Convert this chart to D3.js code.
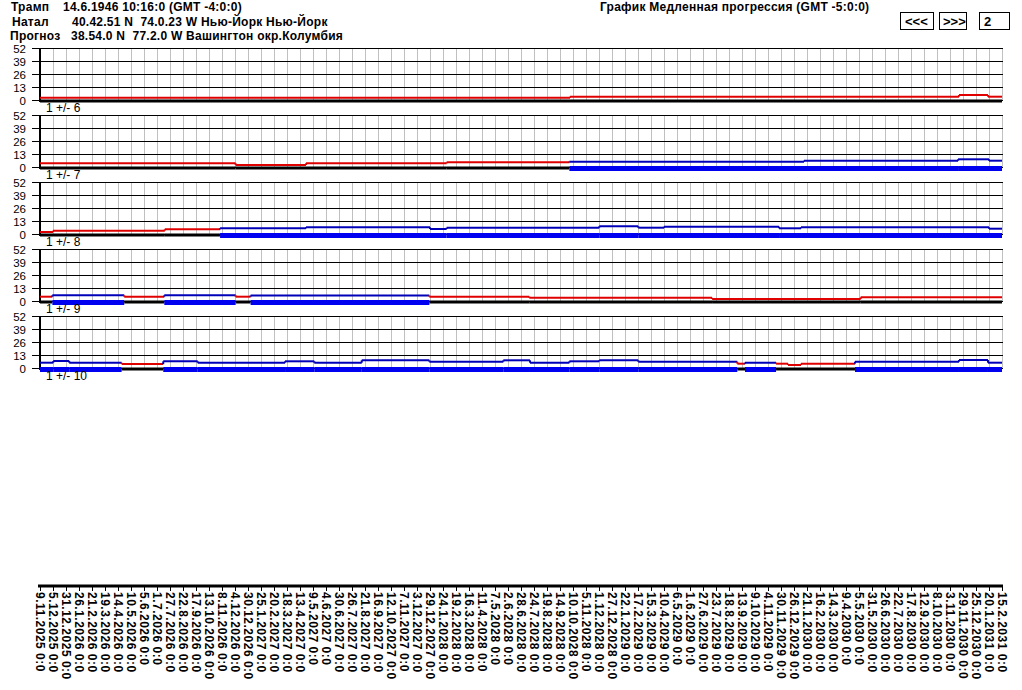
<!DOCTYPE html>
<html>
<head>
<meta charset="utf-8">
<script src="https://cdn.jsdelivr.net/npm/d3@7"></script>
<style>
  html, body { margin: 0; padding: 0; background: #ffffff; }
  svg { display: block; }
  text { font-family: "Liberation Sans", Arial, sans-serif; }
</style>
</head>
<body>
<svg id="chart" width="1022" height="690"></svg>
<script>
// ---------- data ----------
const dateLabels = [
  "9.11.2025 0:0","5.12.2025 0:0","31.12.2025 0:0","26.1.2026 0:0","21.2.2026 0:0",
  "19.3.2026 0:0","14.4.2026 0:0","10.5.2026 0:0","5.6.2026 0:0","1.7.2026 0:0",
  "27.7.2026 0:0","22.8.2026 0:0","17.9.2026 0:0","13.10.2026 0:0","8.11.2026 0:0",
  "4.12.2026 0:0","30.12.2026 0:0","25.1.2027 0:0","20.2.2027 0:0","18.3.2027 0:0",
  "13.4.2027 0:0","9.5.2027 0:0","4.6.2027 0:0","30.6.2027 0:0","26.7.2027 0:0",
  "21.8.2027 0:0","16.9.2027 0:0","12.10.2027 0:0","7.11.2027 0:0","3.12.2027 0:0",
  "29.12.2027 0:0","24.1.2028 0:0","19.2.2028 0:0","16.3.2028 0:0","11.4.2028 0:0",
  "7.5.2028 0:0","2.6.2028 0:0","28.6.2028 0:0","24.7.2028 0:0","19.8.2028 0:0",
  "14.9.2028 0:0","10.10.2028 0:0","5.11.2028 0:0","1.12.2028 0:0","27.12.2028 0:0",
  "22.1.2029 0:0","17.2.2029 0:0","15.3.2029 0:0","10.4.2029 0:0","6.5.2029 0:0",
  "1.6.2029 0:0","27.6.2029 0:0","23.7.2029 0:0","18.8.2029 0:0","13.9.2029 0:0",
  "9.10.2029 0:0","4.11.2029 0:0","30.11.2029 0:0","26.12.2029 0:0","21.1.2030 0:0",
  "16.2.2030 0:0","14.3.2030 0:0","9.4.2030 0:0","5.5.2030 0:0","31.5.2030 0:0",
  "26.6.2030 0:0","22.7.2030 0:0","17.8.2030 0:0","12.9.2030 0:0","8.10.2030 0:0",
  "3.11.2030 0:0","29.11.2030 0:0","25.12.2030 0:0","20.1.2031 0:0","15.2.2031 0:0"
];
const yTicks = [0, 13, 26, 39, 52];
const panelLabels = ["1 +/- 6", "1 +/- 7", "1 +/- 8", "1 +/- 9", "1 +/- 10"];

// step series: start position (in date-tick units), value, state (r = red / b = blue)
const p1Start = [0, 40.77, 70.69, 72.92];
const p1Value = [2.3, 3.3, 5.0, 3.3];
const p1State = ["r", "r", "r", "r"];

const p2Start = [0, 15.05, 20.46, 31.28, 40.72, 58.77, 70.62, 73.0];
const p2Value = [3.7, 2.0, 3.7, 4.7, 5.3, 6.3, 7.7, 6.3];
const p2State = ["r", "r", "r", "r", "b", "b", "b", "b"];

const p3Start = [0, 1.0, 9.6, 13.85, 20.46, 30.0, 31.28, 43.02, 46.02, 48.0, 56.85, 58.54, 73.0];
const p3Value = [2.0, 3.3, 4.7, 5.7, 6.7, 5.0, 6.3, 7.7, 6.3, 7.3, 5.7, 6.7, 5.3];
const p3State = ["r", "r", "r", "b", "b", "b", "b", "b", "b", "b", "b", "b", "b"];

const p4Start = [0, 0.95, 6.48, 9.56, 15.05, 16.2, 29.95, 37.64, 51.7, 63.13];
const p4Value = [4.3, 5.7, 4.3, 5.7, 4.3, 5.5, 4.3, 3.2, 2.0, 3.7];
const p4State = ["r", "b", "r", "b", "r", "b", "r", "r", "r", "r"];

const p5Start = [0, 1.02, 2.25, 6.28, 9.48, 12.13, 18.85, 21.1, 24.75, 29.95, 35.64, 37.69,
                 40.72, 43.02, 46.02, 53.64, 54.23, 56.62, 57.54, 58.54, 62.69, 70.69, 72.92];
const p5Value = [5.3, 7.0, 5.3, 4.0, 6.7, 5.3, 6.7, 5.3, 7.7, 6.3, 7.7,
                 5.3, 6.7, 7.7, 6.3, 4.3, 5.3, 4.3, 3.0, 4.3, 6.3, 8.0, 5.3];
const p5State = ["b", "b", "b", "r", "b", "b", "b", "b", "b", "b", "b",
                 "b", "b", "b", "b", "r", "b", "r", "r", "r", "b", "b", "b"];

const panelStarts = [p1Start, p2Start, p3Start, p4Start, p5Start];
const panelValues = [p1Value, p2Value, p3Value, p4Value, p5Value];
const panelStates = [p1State, p2State, p3State, p4State, p5State];

// ---------- drawing ----------
const svg = d3.select("#chart");
const xLeft = 40, xRight = 1002;
const nTicks = dateLabels.length;
const x = d3.scaleLinear().domain([0, nTicks - 1]).range([xLeft, xRight]);

const panelTop0 = 48, panelH = 52, panelStep = 67;
const RED = "#e00000", BLUE_LINE = "#0000b8", BLUE_BAR = "#0000f0";

// header
const hdr = svg.append("g").attr("font-weight", "bold").attr("font-size", 12)
  .attr("letter-spacing", 0.25).attr("fill", "#000");
const hdrRows = [
  { a: "Трамп", b: "14.6.1946 10:16:0 (GMT -4:0:0)", ax: 11, bx: 63, y: 11 },
  { a: "Натал", b: "40.42.51 N  74.0.23 W Нью-Йорк Нью-Йорк", ax: 12, bx: 72, y: 26 },
  { a: "Прогноз", b: "38.54.0 N  77.2.0 W Вашингтон окр.Колумбия", ax: 10, bx: 71, y: 40 }
];
hdrRows.forEach(r => {
  hdr.append("text").attr("x", r.ax).attr("y", r.y).text(r.a);
  hdr.append("text").attr("x", r.bx).attr("y", r.y).style("white-space", "pre").text(r.b);
});
hdr.append("text").attr("x", 600).attr("y", 11).text("График Медленная прогрессия (GMT -5:0:0)");

// buttons
const buttons = [
  { t: "<<<", x0: 900, x1: 933, tx: 905 },
  { t: ">>>", x0: 939, x1: 966, tx: 943 },
  { t: "2", x0: 979, x1: 1009, tx: 984 }
];
buttons.forEach(b => {
  svg.append("rect").attr("x", b.x0 + 0.5).attr("y", 12.5).attr("width", b.x1 - b.x0).attr("height", 17)
    .attr("fill", "#fff").attr("stroke", "#000").attr("stroke-width", 1);
  svg.append("text").attr("x", b.tx).attr("y", 26).attr("font-size", 13).attr("font-weight", "bold").text(b.t);
});

// panels
panelStarts.forEach((starts, pi) => {
  const top = panelTop0 + pi * panelStep;
  const y = d3.scaleLinear().domain([0, 52]).range([top + panelH, top]);
  const g = svg.append("g");

  // vertical gray grid
  g.selectAll("line.vg").data(d3.range(1, nTicks)).join("line")
    .attr("x1", d => x(d) + 0.5).attr("x2", d => x(d) + 0.5)
    .attr("y1", top).attr("y2", top + panelH)
    .attr("stroke", "#c0c0c0").attr("stroke-width", 1);

  // horizontal black grid lines + y labels
  g.selectAll("line.hg").data(yTicks).join("line")
    .attr("x1", 32).attr("x2", xRight + 1)
    .attr("y1", d => Math.round(y(d)) + 0.5).attr("y2", d => Math.round(y(d)) + 0.5)
    .attr("stroke", "#000").attr("stroke-width", 1);
  g.selectAll("text.yl").data(yTicks).join("text")
    .attr("x", 26).attr("y", d => y(d) + 4.5)
    .attr("text-anchor", "end").attr("font-size", 11.5).attr("fill", "#000")
    .text(d => d);

  // left axis
  g.append("line").attr("x1", 40).attr("x2", 40).attr("y1", top).attr("y2", top + panelH + 2)
    .attr("stroke", "#000").attr("stroke-width", 2);

  const vals = panelValues[pi], states = panelStates[pi];
  const segs = starts.map((s, i) => ({
    x0: s, x1: i < starts.length - 1 ? starts[i + 1] : nTicks - 1, v: vals[i], st: states[i]
  }));
  const y0 = y(0);

  // bottom bars
  g.selectAll("rect.bar").data(segs).join("rect")
    .attr("x", d => x(d.x0)).attr("width", d => x(d.x1) - x(d.x0))
    .attr("y", d => d.st === "r" ? y0 - 0.5 : y0 - 1)
    .attr("height", d => d.st === "r" ? 3 : 5)
    .attr("fill", d => d.st === "r" ? "#000" : BLUE_BAR);

  // thin step lines
  g.selectAll("line.seg").data(segs).join("line")
    .attr("x1", d => x(d.x0)).attr("x2", d => x(d.x1))
    .attr("y1", d => y(d.v)).attr("y2", d => y(d.v))
    .attr("stroke", d => d.st === "r" ? RED : BLUE_LINE).attr("stroke-width", 2);
  g.selectAll("line.join").data(segs.slice(1).map((d, i) => ({ a: segs[i], b: d }))).join("line")
    .attr("x1", d => x(d.b.x0)).attr("x2", d => x(d.b.x0))
    .attr("y1", d => y(d.a.v)).attr("y2", d => y(d.b.v))
    .attr("stroke", d => d.b.st === "r" ? RED : BLUE_LINE).attr("stroke-width", 2);

  // panel label
  svg.append("text").attr("x", 46).attr("y", top + panelH + 12)
    .attr("font-size", 12).attr("fill", "#000").text(panelLabels[pi]);
});

// bottom date axis
const axisY = 586;
svg.append("line").attr("x1", 38).attr("x2", xRight + 1).attr("y1", axisY).attr("y2", axisY)
  .attr("stroke", "#000").attr("stroke-width", 3);
const xl = svg.append("g");
xl.selectAll("line").data(d3.range(nTicks)).join("line")
  .attr("x1", d => x(d) + 0.5).attr("x2", d => x(d) + 0.5)
  .attr("y1", axisY).attr("y2", axisY + 5)
  .attr("stroke", "#000").attr("stroke-width", 1);
xl.selectAll("text").data(dateLabels).join("text")
  .attr("transform", (d, i) => `translate(${x(i) - 4.5},592) rotate(90)`)
  .attr("font-size", 12).attr("font-weight", "bold").attr("letter-spacing", 0.5).attr("fill", "#000")
  .text(d => d);
</script>
</body>
</html>
